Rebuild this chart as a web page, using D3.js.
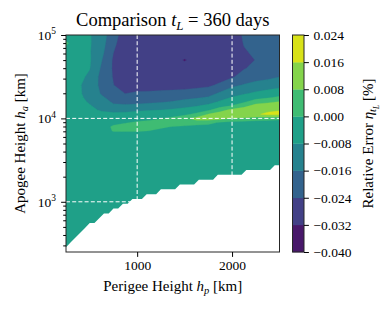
<!DOCTYPE html>
<html>
<head>
<meta charset="utf-8">
<script src="https://cdn.jsdelivr.net/npm/d3@7"></script>
<style>
  html, body { margin: 0; padding: 0; background: #fff; }
  svg { display: block; font-family: "Liberation Serif", "DejaVu Serif", serif; }
  text { white-space: pre; }
</style>
</head>
<body>
<svg id="chart"></svg>
<script>
// perigee heights of the grid columns [km]
const hpKm = [250, 375, 500, 625, 750, 875, 1000, 1125, 1250, 1375, 1500, 1625, 1750, 1875, 2000, 2125, 2250, 2375, 2500];
// apogee heights of the grid rows, top to bottom [km]
const haKm = [100000, 79430, 63100, 50120, 39810, 31620, 25120, 19950, 17780, 15850, 14130, 12590,
              11220, 10000, 8913, 7943, 7079, 6310, 5012, 2512, 1000, 501, 250];
// contour levels of the relative error [%]
const levels = [-0.040, -0.032, -0.024, -0.016, -0.008, 0.000, 0.008, 0.016, 0.024];
// relative error, one row per apogee height, one column per perigee height
const relErr = [
  [-0.004, -0.005, -0.0074, -0.0124, -0.0206, -0.0285, -0.030, -0.030, -0.030, -0.030, -0.030, -0.030, -0.030, -0.030, -0.030, -0.0225, -0.021, -0.0205, -0.020],
  [0.0015, -0.005, -0.0073, -0.0128, -0.0223, -0.0285, -0.030, -0.030, -0.030, -0.030, -0.030, -0.030, -0.030, -0.030, -0.030, -0.0235, -0.0215, -0.021, -0.0205],
  [-0.004, -0.005, -0.0075, -0.0139, -0.0238, -0.029, -0.030, -0.030, -0.030, -0.030, -0.030, -0.030, -0.030, -0.030, -0.030, -0.0248, -0.0225, -0.0215, -0.021],
  [-0.004, -0.005, -0.0072, -0.0156, -0.025, -0.029, -0.030, -0.030, -0.030, -0.0305, -0.0323, -0.0305, -0.030, -0.030, -0.030, -0.026, -0.0238, -0.022, -0.0215],
  [-0.004, -0.0055, -0.0077, -0.0171, -0.025, -0.029, -0.030, -0.030, -0.030, -0.030, -0.0302, -0.030, -0.030, -0.029, -0.0285, -0.0245, -0.022, -0.021, -0.0205],
  [-0.004, -0.0055, -0.0096, -0.0185, -0.0245, -0.029, -0.030, -0.030, -0.030, -0.030, -0.030, -0.030, -0.029, -0.0275, -0.025, -0.0204, -0.019, -0.0181, -0.0162],
  [-0.004, -0.0065, -0.0117, -0.0178, -0.0238, -0.029, -0.029, -0.0286, -0.0282, -0.0278, -0.0275, -0.0265, -0.0255, -0.0225, -0.0178, -0.0155, -0.0135, -0.0119, -0.0106],
  [-0.004, -0.0065, -0.011, -0.0167, -0.0215, -0.0241, -0.0226, -0.0223, -0.0219, -0.0214, -0.0208, -0.0198, -0.0188, -0.0147, -0.0108, -0.0088, -0.0066, -0.0051, -0.0034],
  [-0.004, -0.0062, -0.010, -0.015, -0.0185, -0.0211, -0.0202, -0.0198, -0.0193, -0.0186, -0.0177, -0.0167, -0.0154, -0.011, -0.0075, -0.0051, -0.0024, -0.0009, 0.0014],
  [-0.004, -0.006, -0.0087, -0.013, -0.017, -0.0182, -0.0177, -0.0173, -0.0167, -0.0157, -0.0142, -0.0127, -0.0109, -0.0071, -0.0037, -0.0011, 0.0036, 0.0066, 0.0082],
  [-0.004, -0.0055, -0.0075, -0.0105, -0.015, -0.0148, -0.0147, -0.0135, -0.0126, -0.0112, -0.010, -0.0085, -0.0062, -0.0027, 0.0005, 0.005, 0.0115, 0.0115, 0.012],
  [-0.004, -0.005, -0.0065, -0.0088, -0.010, -0.0098, -0.0091, -0.0084, -0.0079, -0.0069, -0.0053, -0.0038, -0.001, 0.005, 0.0105, 0.0135, 0.0145, 0.0145, 0.0155],
  [-0.004, -0.0045, -0.005, -0.006, -0.0066, -0.0062, -0.0055, -0.0049, -0.0042, -0.0033, -0.0017, 0.0018, 0.0083, 0.012, 0.0125, 0.0135, 0.015, 0.0175, 0.0185],
  [-0.004, -0.004, -0.0045, -0.0045, -0.0041, -0.0034, -0.0024, -0.0015, -0.0004, 0.0015, 0.006, 0.0105, 0.0125, 0.011, 0.0075, 0.007, 0.004, 0.003, 0.002],
  [-0.004, -0.004, -0.004, -0.003, -0.0017, -0.0005, 0.0008, 0.0015, 0.0025, 0.0055, 0.0075, 0.0052, 0.0024, -0.001, -0.0025, -0.003, -0.003, -0.003, -0.0035],
  [-0.004, -0.004, -0.004, -0.003, 0.001, 0.0025, 0.0035, 0.0035, 0.001, -0.0003, -0.002, -0.0035, -0.003, -0.003, -0.003, -0.0035, -0.0035, -0.0035, -0.004],
  [-0.004, -0.004, -0.004, -0.003, 0.0004, 0.0006, 0.0005, -0.0001, -0.0015, -0.002, -0.003, -0.004, -0.004, -0.004, -0.004, -0.004, -0.004, -0.004, -0.004],
  [-0.004, -0.004, -0.004, -0.0035, -0.003, -0.003, -0.0025, -0.003, -0.003, -0.003, -0.0035, -0.004, -0.004, -0.004, -0.004, -0.004, -0.004, -0.004, -0.004],
  [-0.004, -0.004, -0.004, -0.004, -0.004, -0.004, -0.004, -0.004, -0.004, -0.004, -0.004, -0.004, -0.004, -0.004, -0.004, -0.004, -0.004, -0.004, -0.004],
  [-0.004, -0.004, -0.004, -0.004, -0.004, -0.004, -0.004, -0.004, -0.004, -0.004, -0.004, -0.004, -0.004, -0.004, -0.004, -0.004, -0.004, -0.004, -0.004],
  [-0.004, -0.004, -0.004, -0.004, -0.004, -0.004, -0.004, -0.004, -0.004, -0.004, -0.004, -0.004, -0.004, -0.004, -0.004, -0.004, -0.004, -0.004, -0.004],
  [-0.004, -0.004, -0.004, -0.004, -0.004, -0.004, -0.004, -0.004, -0.004, -0.004, -0.004, -0.004, -0.004, -0.004, -0.004, -0.004, -0.004, -0.004, -0.004],
  [-0.004, -0.004, -0.004, -0.004, -0.004, -0.004, -0.004, -0.004, -0.004, -0.004, -0.004, -0.004, -0.004, -0.004, -0.004, -0.004, -0.004, -0.004, -0.004]
];
// dashed guide lines
const guideHp = [1000, 2000];
const guideHa = [1e3, 1e4];
// axis ticks
const xTicks = [1000, 2000];
const yMajor = [1e3, 1e4, 1e5];

const W = 390, H = 312;
const frame = { left: 66, right: 279.5, top: 35, bottom: 252 };
const cbar = { left: 292.5, right: 304 };
const serif = '"Liberation Serif", "DejaVu Serif", serif';

const svg = d3.select('#chart').attr('width', W).attr('height', H);

const x = d3.scaleLinear().domain([250, 2500]).range([frame.left, frame.right]);
const y = d3.scaleLog().domain([250, 1e5]).range([frame.bottom, frame.top]);
const bandColour = v => d3.interpolateViridis((levels.indexOf(v) + 0.5) / (levels.length - 1));

// write text with italic / sub / superscript parts: [string, italic, level]
function richText(sel, parts, size) {
  const scale = { '-1': 0.7, 0: 1, 1: 0.7, 2: 0.5 };
  const shift = { '-1': -0.42, 0: 0, 1: 0.22, 2: 0.38 };
  let cur = 0;
  sel.attr('font-family', serif);
  parts.forEach(([str, ital, lvl]) => {
    const off = shift[lvl] * size;
    sel.append('tspan')
      .attr('font-size', scale[lvl] * size)
      .attr('font-style', ital ? 'italic' : 'normal')
      .attr('dy', off - cur)
      .text(str);
    cur = off;
  });
  return sel;
}

svg.append('clipPath').attr('id', 'plot-clip')
  .append('rect')
  .attr('x', frame.left).attr('y', frame.top)
  .attr('width', frame.right - frame.left).attr('height', frame.bottom - frame.top);

const plot = svg.append('g').attr('clip-path', 'url(#plot-clip)');

// filled contours
const nx = hpKm.length, ny = haKm.length;
const colPx = d3.scaleLinear().domain(d3.range(nx)).range(hpKm.map(x));
const rowPx = d3.scaleLinear().domain(d3.range(ny)).range(haKm.map(y));
const bands = d3.contours().size([nx, ny]).thresholds(levels.slice(0, -1))(relErr.flat());
const gridPath = d3.geoPath(d3.geoTransform({
  point(cx, cy) { this.stream.point(colPx(cx - 0.5), rowPx(cy - 0.5)); }
}));

plot.selectAll('path.band')
  .data(bands)
  .enter()
  .append('path')
  .attr('class', 'band')
  .attr('d', gridPath)
  .attr('fill', d => bandColour(d.value))
  .attr('stroke', d => bandColour(d.value))
  .attr('stroke-width', 0.3);

// no orbits where apogee < perigee: blank that part, following the run grid
// (perigee in 50 km steps, apogee in 45 log steps) so the edge is stepped
const runHp = d3.range(46).map(i => 250 + 50 * i);
const runHa = d3.range(46).map(j => 250 * Math.pow(400, j / 45));
const lastValid = runHa.map(ha => d3.bisectRight(runHp, ha * (1 + 1e-9)) - 1);
const edge = [[runHp[0], runHa[0]]];
for (let j = 0; j < runHa.length - 1 && lastValid[j] < runHp.length - 1; j++) {
  const k0 = lastValid[j], k1 = lastValid[j + 1];
  if (k1 === k0) {
    edge.push([runHp[k0], runHa[j + 1]]);
  } else {
    edge.push([runHp[k0 + 1], runHa[j + 1]]);
    if (k1 > k0 + 1) edge.push([runHp[k1], runHa[j + 1]]);
  }
}
const lastPt = edge[edge.length - 1];
edge.push([2800, lastPt[1]], [2800, 150], [150, 150], [150, runHa[0]]);

plot.append('path')
  .attr('d', d3.line().x(d => x(d[0])).y(d => y(d[1]))(edge) + 'Z')
  .attr('fill', '#fff');

// dashed guides
plot.selectAll('line.vguide')
  .data(guideHp)
  .enter()
  .append('line')
  .attr('x1', d => x(d)).attr('x2', d => x(d))
  .attr('y1', frame.top).attr('y2', frame.bottom)
  .attr('stroke', '#fff').attr('stroke-width', 1)
  .attr('stroke-dasharray', '4,2.2');

plot.selectAll('line.hguide')
  .data(guideHa)
  .enter()
  .append('line')
  .attr('x1', frame.left).attr('x2', frame.right)
  .attr('y1', d => y(d)).attr('y2', d => y(d))
  .attr('stroke', '#fff').attr('stroke-width', 1)
  .attr('stroke-dasharray', '4,2.2');

// frame
svg.append('rect')
  .attr('x', frame.left).attr('y', frame.top)
  .attr('width', frame.right - frame.left).attr('height', frame.bottom - frame.top)
  .attr('fill', 'none').attr('stroke', '#262626').attr('stroke-width', 1);

// x axis
const xAxis = svg.append('g')
  .attr('transform', `translate(0,${frame.bottom})`)
  .call(d3.axisBottom(x).tickValues(xTicks).tickSize(4.9).tickPadding(3.2).tickFormat(d3.format('d')));
xAxis.select('.domain').remove();
xAxis.attr('font-family', serif).attr('font-size', 13.5).attr('color', '#000');

// y axis, log scale with minor ticks
const yMinor = y.ticks().filter(d => !yMajor.includes(d));
const yMinorAxis = svg.append('g')
  .attr('transform', `translate(${frame.left},0)`)
  .call(d3.axisLeft(y).tickValues(yMinor).tickSize(2.8).tickFormat(''));
yMinorAxis.select('.domain').remove();
yMinorAxis.attr('color', '#000');

const yAxis = svg.append('g')
  .attr('transform', `translate(${frame.left},0)`)
  .call(d3.axisLeft(y).tickValues(yMajor).tickSize(4.9).tickFormat(''));
yAxis.select('.domain').remove();
yAxis.attr('color', '#000');

yMajor.forEach(v => {
  const t = svg.append('text')
    .attr('x', frame.left - 10)
    .attr('y', y(v) + 4.8)
    .attr('text-anchor', 'end')
    .attr('font-size', 13.5);
  richText(t, [['10', false, 0], [String(Math.round(Math.log10(v))), false, -1]], 13.5);
});

// colour bar
const cbY = d3.scaleLinear().domain([levels[0], levels[levels.length - 1]]).range([frame.bottom, frame.top]);
svg.selectAll('rect.cb')
  .data(levels.slice(0, -1))
  .enter()
  .append('rect')
  .attr('class', 'cb')
  .attr('x', cbar.left)
  .attr('width', cbar.right - cbar.left)
  .attr('y', (d, i) => cbY(levels[i + 1]))
  .attr('height', (d, i) => cbY(levels[i]) - cbY(levels[i + 1]) + 0.3)
  .attr('fill', d => bandColour(d));

svg.append('rect')
  .attr('x', cbar.left).attr('y', frame.top)
  .attr('width', cbar.right - cbar.left).attr('height', frame.bottom - frame.top)
  .attr('fill', 'none').attr('stroke', '#262626').attr('stroke-width', 1);

const cbAxis = svg.append('g')
  .attr('transform', `translate(${cbar.right},0)`)
  .call(d3.axisRight(cbY).tickValues(levels).tickSize(4.9).tickPadding(4.6)
    .tickFormat(d => (d < 0 ? '\u2212' : '') + Math.abs(d).toFixed(3)));
cbAxis.select('.domain').remove();
cbAxis.attr('font-family', serif).attr('font-size', 13.5).attr('color', '#000');

// title and labels
richText(svg.append('text')
  .attr('x', (frame.left + frame.right) / 2).attr('y', 26)
  .attr('text-anchor', 'middle').attr('font-size', 18.5),
  [['Comparison ', false, 0], ['t', true, 0], ['L', true, 1], [' = 360 days', false, 0]], 18.5);

richText(svg.append('text')
  .attr('x', (frame.left + frame.right) / 2).attr('y', 291)
  .attr('text-anchor', 'middle').attr('font-size', 15),
  [['Perigee Height ', false, 0], ['h', true, 0], ['p', true, 1], [' [km]', false, 0]], 15);

richText(svg.append('text')
  .attr('transform', `translate(25,${(frame.top + frame.bottom) / 2}) rotate(-90)`)
  .attr('text-anchor', 'middle').attr('font-size', 15),
  [['Apogee Height ', false, 0], ['h', true, 0], ['a', true, 1], [' [km]', false, 0]], 15);

richText(svg.append('text')
  .attr('transform', `translate(373,${(frame.top + frame.bottom) / 2}) rotate(-90)`)
  .attr('text-anchor', 'middle').attr('font-size', 15),
  [['Relative Error ', false, 0], ['\u03B7', true, 0], ['t', true, 1], ['L', true, 2], [' [%]', false, 0]], 15);
</script>
</body>
</html>
